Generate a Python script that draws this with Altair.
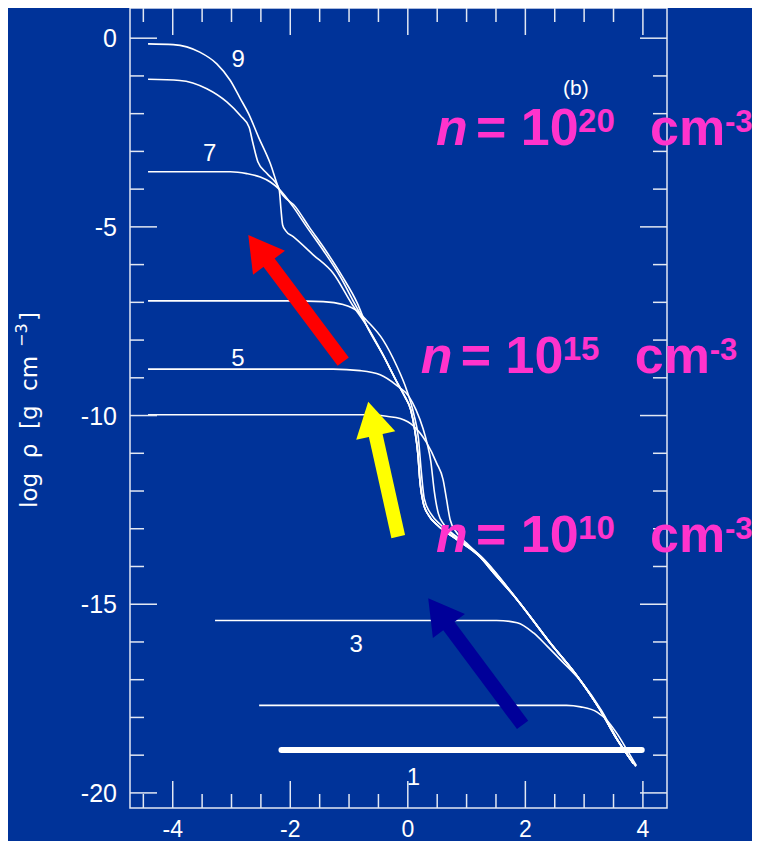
import math
import altair as alt
import pandas as pd

# ---------------- layout / style ----------------
W, H = 537, 800
XMIN, XMAX = -4.727, 4.41
YMIN, YMAX = -20.40, 0.80
BG = "#003399"
FG = "#e2e8f3"
PINK = "#ff33cc"
FONT = "Liberation Sans"
TFONT = "DejaVu Sans"

# ---------------- data ----------------
x_major = [-4, -2, 0, 2, 4]
x_minor = [-4.5, -3.5, -3, -2.5, -1.5, -1, -0.5, 0.5, 1, 1.5, 2.5, 3, 3.5]
y_major = [0, -5, -10, -15, -20]
y_minor = [-1, -2, -3, -4, -6, -7, -8, -9, -11, -12, -13, -14, -16, -17, -18, -19]
x_tick_labels = ["-4", "-2", "0", "2", "4"]
y_tick_labels = ["0", "-5", "-10", "-15", "-20"]
y_title_main = "log\u00a0\u00a0ρ\u00a0\u00a0[g\u00a0\u00a0cm"
y_title_sup = "\u22123"
y_title_end = "]"

# shared inner part of the late profiles (after merging) and outer envelope
bundle_x = [-0.70, -0.42, -0.19, -0.05, 0.05, 0.12, 0.17, 0.21, 0.26, 0.36, 0.50, 0.83, 1.23, 1.45]
bundle_y = [-7.62, -8.40, -9.10, -9.50, -9.85, -10.40, -11.00, -11.80, -12.30, -12.66, -12.90, -13.28, -13.75, -14.15]
env_x = [1.86, 2.42, 2.88, 3.27, 3.56, 3.84]
env_y = [-14.88, -16.02, -16.90, -17.79, -18.58, -19.22]

c1_x = [-2.15, 3.98]
c1_y = [-18.86, -18.86]
c2_x = [-2.53, 2.70, 2.94, 3.22, 3.39, 3.56, 3.73, 3.89]
c2_y = [-17.68, -17.68, -17.72, -17.86, -18.08, -18.43, -18.86, -19.28]
c3_x = [-3.28, 1.51, 1.86, 2.14, 2.37, 2.59, 2.95, 3.30, 3.58, 3.88]
c3_y = [-15.43, -15.43, -15.49, -15.76, -16.11, -16.46, -17.05, -17.83, -18.62, -19.30]
c4_x = [-4.42, -0.70, -0.36, -0.13, 0.10, 0.32, 0.49, 0.60, 0.66, 0.72, 0.83, 1.00, 1.28]
c4_y = [-9.98, -9.98, -10.02, -10.08, -10.28, -10.72, -11.26, -11.70, -12.23, -12.76, -13.10, -13.38, -13.80]
c5_x = [-4.42, -1.27, -0.81, -0.47, -0.19, 0.02, 0.14, 0.26, 0.33, 0.39, 0.45, 0.52, 0.62, 0.85, 1.25]
c5_y = [-8.77, -8.77, -8.81, -8.92, -9.20, -9.50, -9.85, -10.35, -10.75, -11.20, -12.00, -12.60, -12.90, -13.24, -13.76]
c6_x = [-4.42, -2.00, -1.44, -1.10, -0.87, -0.70, -0.42, -0.19, -0.02, 0.10, 0.18, 0.23, 0.28, 0.40, 0.55, 0.85, 1.25]
c6_y = [-6.96, -6.96, -6.98, -7.06, -7.22, -7.48, -8.00, -8.68, -9.32, -9.95, -10.60, -11.50, -12.20, -12.62, -12.88, -13.25, -13.74]
c7_x = [-4.42, -3.02, -2.74, -2.51, -2.34, -2.19, -1.95, -1.72, -1.44, -1.15, -0.90]
c7_y = [-3.54, -3.54, -3.59, -3.68, -3.81, -4.00, -4.47, -5.00, -5.62, -6.32, -7.05]
c8_x = [-4.42, -3.88, -3.42, -3.08, -2.85, -2.70, -2.64, -2.55, -2.40, -2.19, -2.16, -2.13, -2.08, -1.95, -1.61, -1.27, -0.95]
c8_y = [-1.09, -1.12, -1.34, -1.69, -2.05, -2.36, -2.75, -3.28, -3.58, -4.00, -4.50, -4.95, -5.10, -5.26, -5.74, -6.23, -7.05]
c9_x = [-4.42, -3.99, -3.54, -3.25, -3.02, -2.85, -2.71, -2.54, -2.34, -2.19, -1.91, -1.68, -1.40, -1.12, -0.86]
c9_y = [-0.15, -0.17, -0.37, -0.68, -1.12, -1.60, -2.00, -2.62, -3.32, -4.00, -4.47, -5.00, -5.62, -6.30, -7.02]

label_text = ["9", "7", "5", "3", "1"]
label_x = [-2.885, -3.37, -2.89, -0.88, 0.095]
label_y = [-0.755, -3.25, -8.70, -16.26, -19.79]

panel_text = ["(b)"]
panel_x = [2.86]
panel_y = [-1.50]

# arrows: tail -> tip
arrow_color = ["#ff0000", "#ffff00", "#000099"]
arrow_tail_x = [-1.099, -0.163, 1.953]
arrow_tail_y = [-8.572, -13.209, -18.198]
arrow_tip_x = [-2.715, -0.674, 0.347]
arrow_tip_y = [-5.215, -9.632, -14.841]

# density annotations  n = 10^k cm^-3
dens_exp = ["20", "15", "10"]
dens_x = [0.48, 0.22, 0.48]
dens_y = [-2.83, -8.87, -13.61]

# ---------------- build tables ----------------
curves = {
    "1": (c1_x, c1_y),
    "2": (c2_x, c2_y),
    "3": (c3_x, c3_y),
    "4": (c4_x + env_x, c4_y + env_y),
    "5": (c5_x + env_x, c5_y + env_y),
    "6": (c6_x + env_x, c6_y + env_y),
    "7": (c7_x + bundle_x + env_x, c7_y + bundle_y + env_y),
    "8": (c8_x + bundle_x + env_x, c8_y + bundle_y + env_y),
    "9": (c9_x + bundle_x + env_x, c9_y + bundle_y + env_y),
}
rows = []
for name, (xs_, ys_) in curves.items():
    for i, (a, b) in enumerate(zip(xs_, ys_)):
        rows.append({"curve": name, "ord": i, "x": a, "y": b})
df_curves = pd.DataFrame(rows)
df_thin = df_curves[df_curves.curve != "1"]
df_thick = df_curves[df_curves.curve == "1"]

ppx = W / (XMAX - XMIN)
ppy = H / (YMAX - YMIN)
HEAD = 40.0  # triangle base width in px
hh = 0.866 * HEAD
arows = []
for col, tx, ty, hx, hy in zip(arrow_color, arrow_tail_x, arrow_tail_y, arrow_tip_x, arrow_tip_y):
    dxp = (hx - tx) * ppx
    dyp = -(hy - ty) * ppy
    L = math.hypot(dxp, dyp)
    ux, uy = dxp / L, dyp / L
    cx = hx - ux * (hh / 2) / ppx
    cy = hy + uy * (hh / 2) / ppy
    sx = hx - ux * (hh * 0.8) / ppx
    sy = hy + uy * (hh * 0.8) / ppy
    ang = math.degrees(math.atan2(ux, -uy)) % 360
    arows.append({"col": col, "x": tx, "y": ty, "x2": sx, "y2": sy,
                  "cx": cx, "cy": cy, "ang": ang})
df_arrows = pd.DataFrame(arows)

df_labels = pd.DataFrame({"t": label_text, "x": label_x, "y": label_y})
df_panel = pd.DataFrame({"t": panel_text, "x": panel_x, "y": panel_y})
df_dens = pd.DataFrame({"e": dens_exp, "x": dens_x, "y": dens_y})
df_xlab = pd.DataFrame({"v": x_major, "t": x_tick_labels})
df_ylab = pd.DataFrame({"v": y_major, "t": y_tick_labels})
df_one = pd.DataFrame({"k": [0]})

xs = alt.Scale(domain=[XMIN, XMAX], zero=False, nice=False)
ys = alt.Scale(domain=[YMIN, YMAX], zero=False, nice=False)


def X(f):
    return alt.X(f, scale=xs, axis=None)


def Y(f):
    return alt.Y(f, scale=ys, axis=None)


# ---------------- layers ----------------
thin = alt.Chart(df_thin).mark_line(
    color="white", strokeWidth=1.6, interpolate="monotone"
).encode(x=X("x:Q"), y=Y("y:Q"), detail="curve:N", order="ord:Q")

thick = alt.Chart(df_thick).mark_line(
    color="white", strokeWidth=6, strokeCap="round"
).encode(x=X("x:Q"), y=Y("y:Q"), order="ord:Q")


def tick_layers(vals, length, axis):
    d = pd.DataFrame({"v": vals})
    base = alt.Chart(d).mark_rule(color=FG, strokeWidth=1.5)
    if axis == "x":
        return [
            base.encode(x=X("v:Q"), y=alt.value(H), y2=alt.value(H - length)),
            base.encode(x=X("v:Q"), y=alt.value(0), y2=alt.value(length)),
        ]
    return [
        base.encode(y=Y("v:Q"), x=alt.value(0), x2=alt.value(length)),
        base.encode(y=Y("v:Q"), x=alt.value(W), x2=alt.value(W - length)),
    ]


ticks = (tick_layers(x_major, 27, "x") + tick_layers(x_minor, 14, "x")
         + tick_layers(y_major, 27, "y") + tick_layers(y_minor, 14, "y"))

xlab = alt.Chart(df_xlab).mark_text(
    font=FONT, fontSize=23, color="white", align="center", baseline="alphabetic"
).encode(x=X("v:Q"), y=alt.value(H + 29), text="t:N")

ylab = alt.Chart(df_ylab).mark_text(
    font=FONT, fontSize=25, color="white", align="right", baseline="alphabetic", dy=9
).encode(y=Y("v:Q"), x=alt.value(-13), text="t:N")


def title_part(text, xpix, ypix, size):
    return alt.Chart(df_one).mark_text(
        font=TFONT, fontSize=size, color="white", align="left",
        baseline="alphabetic", angle=270, text=text
    ).encode(x=alt.value(xpix), y=alt.value(ypix))


ytitle = [
    title_part(y_title_main, -93, 500, 23),
    title_part(y_title_sup, -103, 339, 16),
    title_part(y_title_end, -93, 313, 23),
]

labels = alt.Chart(df_labels).mark_text(
    font=FONT, fontSize=24, color="white", align="center", baseline="alphabetic"
).encode(x=X("x:Q"), y=Y("y:Q"), text="t:N")

panel = alt.Chart(df_panel).mark_text(
    font=FONT, fontSize=21, color="white", align="center", baseline="alphabetic"
).encode(x=X("x:Q"), y=Y("y:Q"), text="t:N")

shafts = alt.Chart(df_arrows).mark_rule(strokeWidth=14, strokeCap="butt").encode(
    x=X("x:Q"), y=Y("y:Q"), x2="x2:Q", y2="y2:Q",
    color=alt.Color("col:N", scale=None),
)
heads = alt.Chart(df_arrows).mark_point(
    shape="triangle-up", filled=True, size=HEAD * HEAD, opacity=1, strokeWidth=0
).encode(
    x=X("cx:Q"), y=Y("cy:Q"),
    angle=alt.Angle("ang:Q", scale=None),
    color=alt.Color("col:N", scale=None),
)


def dens_part(text, dx, dy, size, italic=False, field=False):
    mk = dict(font=FONT, fontSize=size, fontWeight="bold", color=PINK,
              align="left", baseline="alphabetic", dx=dx, dy=dy)
    if italic:
        mk["fontStyle"] = "italic"
    if not field:
        mk["text"] = text
    ch = alt.Chart(df_dens).mark_text(**mk)
    enc = dict(x=X("x:Q"), y=Y("y:Q"))
    if field:
        enc["text"] = "e:N"
    return ch.encode(**enc)


dens = [
    dens_part("n", 0, 0, 52, italic=True),
    dens_part("= 10", 40, 0, 52),
    dens_part(None, 142, -13, 33, field=True),
    dens_part("cm", 214, 0, 52),
    dens_part("-3", 289, -13, 31),
]

chart = alt.layer(
    thin, thick, *ticks, xlab, ylab, *ytitle, labels, panel, shafts, heads, *dens
).properties(
    width=W, height=H,
    padding={"left": 122, "top": 0, "right": 85, "bottom": 33},
    autosize=alt.AutoSizeParams(type="none"),
).configure(background=BG).configure_view(stroke=FG, strokeWidth=1.5)

chart.save("out.html", embed_options={"renderer": "svg", "actions": False})
